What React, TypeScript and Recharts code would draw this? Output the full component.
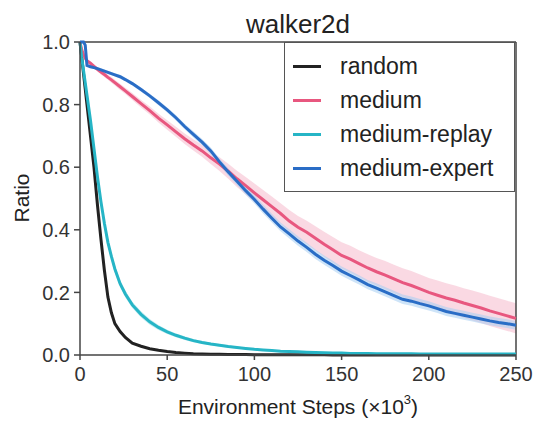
import { Area, ComposedChart, Line, ReferenceLine, XAxis, YAxis } from "recharts"

// environment steps (x10^3) shared by every curve
const steps = [
  0, 1, 2, 3, 4, 6, 8, 10, 12, 14, 16, 18, 20, 23, 26, 30, 35, 40, 45, 50,
  55, 60, 65, 70, 75, 80, 85, 90, 95, 100, 105, 110, 115, 120, 125, 130, 135, 140, 145, 150,
  155, 160, 165, 170, 175, 180, 185, 190, 195, 200, 205, 210, 215, 220, 225, 230, 235, 240, 245, 250,
]

const randomRatio = [
  1.0, 0.95, 0.9, 0.85, 0.8, 0.7, 0.6, 0.48, 0.37, 0.27, 0.185, 0.135, 0.1, 0.075, 0.056, 0.038, 0.028, 0.02, 0.015, 0.011,
  0.008, 0.006, 0.004, 0.003, 0.0025, 0.002, 0.0018, 0.0015, 0.0012, 0.001, 0.001, 0.001, 0.0008, 0.0008, 0.0006, 0.0006, 0.0005, 0.0005, 0.0004, 0.0004,
  0.0004, 0.0003, 0.0003, 0.0003, 0.0003, 0.0002, 0.0002, 0.0002, 0.0002, 0.0002, 0.0002, 0.0001, 0.0001, 0.0001, 0.0001, 0.0001, 0.0001, 0.0001, 0.0001, 0.0001,
]

const mediumRatio = [
  1.0, 0.975, 0.96, 0.948, 0.94, 0.932, 0.922, 0.913, 0.904, 0.896, 0.887, 0.879, 0.87, 0.857, 0.844, 0.826, 0.803, 0.781, 0.757, 0.735,
  0.713, 0.691, 0.671, 0.652, 0.63, 0.61, 0.587, 0.563, 0.541, 0.518, 0.496, 0.474, 0.452, 0.428, 0.408, 0.392, 0.373, 0.354, 0.336, 0.318,
  0.306, 0.292, 0.278, 0.266, 0.255, 0.243, 0.231, 0.222, 0.211, 0.2, 0.191, 0.182, 0.175, 0.166, 0.158, 0.15, 0.141, 0.133, 0.125, 0.117,
]

const replayRatio = [
  1.0, 0.95, 0.91, 0.87, 0.83, 0.75, 0.66, 0.57, 0.49, 0.42, 0.36, 0.315, 0.275, 0.228, 0.195, 0.16, 0.13, 0.106, 0.088, 0.074,
  0.063, 0.054, 0.046, 0.04, 0.035, 0.031, 0.027, 0.024, 0.021, 0.018, 0.016, 0.014, 0.012, 0.011, 0.01, 0.009, 0.008, 0.007, 0.006, 0.006,
  0.005, 0.005, 0.005, 0.004, 0.004, 0.004, 0.004, 0.004, 0.003, 0.003, 0.003, 0.003, 0.003, 0.003, 0.003, 0.003, 0.003, 0.003, 0.003, 0.003,
]

const expertRatio = [
  1.0, 1.0, 1.0, 0.99, 0.925, 0.921, 0.918, 0.915, 0.911, 0.907, 0.903, 0.899, 0.895, 0.889, 0.88, 0.867, 0.848, 0.828, 0.806, 0.783,
  0.758, 0.73, 0.705, 0.68, 0.652, 0.617, 0.585, 0.555, 0.525, 0.497, 0.466, 0.437, 0.409, 0.387, 0.364, 0.344, 0.322, 0.303, 0.286, 0.268,
  0.254, 0.24, 0.225, 0.214, 0.202, 0.19, 0.178, 0.172, 0.164, 0.157, 0.148, 0.139, 0.133, 0.127, 0.121, 0.115, 0.109, 0.104, 0.1, 0.095,
]

// half-width of the shaded band around each mean curve
const mediumSpread = [
  0, 0.004, 0.005, 0.006, 0.006, 0.006, 0.007, 0.007, 0.008, 0.008, 0.008, 0.009, 0.009, 0.01, 0.01, 0.011, 0.012, 0.013, 0.014, 0.015,
  0.016, 0.017, 0.018, 0.019, 0.02, 0.022, 0.024, 0.026, 0.028, 0.03, 0.031, 0.032, 0.033, 0.035, 0.036, 0.037, 0.038, 0.04, 0.041, 0.042,
  0.043, 0.043, 0.044, 0.044, 0.045, 0.045, 0.046, 0.046, 0.046, 0.046, 0.047, 0.047, 0.047, 0.047, 0.048, 0.048, 0.048, 0.048, 0.048, 0.048,
]

const replaySpread = [
  0, 0.005, 0.006, 0.007, 0.008, 0.009, 0.01, 0.011, 0.012, 0.012, 0.012, 0.012, 0.012, 0.011, 0.011, 0.01, 0.01, 0.009, 0.008, 0.007,
  0.006, 0.006, 0.005, 0.005, 0.004, 0.004, 0.004, 0.003, 0.003, 0.003, 0.002, 0.002, 0.002, 0.002, 0.002, 0.002, 0.002, 0.002, 0.002, 0.002,
  0.002, 0.002, 0.002, 0.002, 0.002, 0.002, 0.002, 0.002, 0.002, 0.002, 0.002, 0.002, 0.002, 0.002, 0.002, 0.002, 0.002, 0.002, 0.002, 0.002,
]

const expertSpread = [
  0, 0, 0, 0.003, 0.004, 0.004, 0.004, 0.004, 0.005, 0.005, 0.005, 0.005, 0.005, 0.006, 0.006, 0.006, 0.007, 0.007, 0.008, 0.008,
  0.009, 0.009, 0.01, 0.01, 0.011, 0.011, 0.012, 0.012, 0.013, 0.013, 0.014, 0.014, 0.014, 0.015, 0.015, 0.015, 0.015, 0.015, 0.015, 0.015,
  0.015, 0.015, 0.015, 0.015, 0.015, 0.015, 0.015, 0.015, 0.015, 0.015, 0.014, 0.014, 0.014, 0.014, 0.014, 0.014, 0.014, 0.014, 0.014, 0.014,
]

const xTicks = [0, 50, 100, 150, 200, 250]
const yTicks = [0, 0.2, 0.4, 0.6, 0.8, 1.0]

const SERIES = [
  { key: "random", name: "random", color: "#222222" },
  { key: "medium", name: "medium", color: "#e8577f" },
  { key: "replay", name: "medium-replay", color: "#26b5c6" },
  { key: "expert", name: "medium-expert", color: "#2a6dc6" },
]

const data = steps.map((x, i) => ({
  x,
  random: randomRatio[i],
  medium: mediumRatio[i],
  replay: replayRatio[i],
  expert: expertRatio[i],
  mediumBand: [mediumRatio[i] - mediumSpread[i], mediumRatio[i] + mediumSpread[i]],
  replayBand: [replayRatio[i] - replaySpread[i], replayRatio[i] + replaySpread[i]],
  expertBand: [expertRatio[i] - expertSpread[i], expertRatio[i] + expertSpread[i]],
}))

const FONT = "'Liberation Sans', Arial, sans-serif"
const AXIS = "#444444"

// legend box in the upper right corner of the axes
function LegendBox() {
  return (
    <div
      style={{
        position: "absolute",
        left: 284,
        top: 42,
        width: 231,
        height: 150,
        border: "1.5px solid #555",
        background: "#fff",
        padding: "6px 0 6px 8px",
        boxSizing: "border-box",
        fontFamily: FONT,
        fontSize: 23,
        color: "#222",
      }}
    >
      {SERIES.map((s) => (
        <div key={s.key} style={{ height: 34, display: "flex", alignItems: "center" }}>
          <div style={{ width: 28, height: 3, background: s.color, marginRight: 19 }} />
          <span>{s.name}</span>
        </div>
      ))}
    </div>
  )
}

export default function App() {
  return (
    <div style={{ position: "absolute", left: 0, top: 0, width: 536, height: 422, background: "#fff" }}>
      <ComposedChart
        width={536}
        height={422}
        data={data}
        margin={{ top: 42, right: 20, bottom: 37, left: 20 }}
        style={{ position: "absolute", left: 0, top: 0 }}
      >
        <XAxis
          dataKey="x"
          type="number"
          domain={[0, 250]}
          ticks={xTicks}
          height={30}
          stroke={AXIS}
          strokeWidth={1.5}
          tickSize={5}
          tickMargin={7}
          tick={{ fill: "#333", fontSize: 20, fontFamily: FONT }}
        />
        <YAxis
          type="number"
          domain={[0, 1]}
          ticks={yTicks}
          width={60}
          stroke={AXIS}
          strokeWidth={1.5}
          tickSize={6}
          tickMargin={4}
          tickFormatter={(v: number) => v.toFixed(1)}
          tick={{ fill: "#333", fontSize: 20, fontFamily: FONT }}
        />
        <ReferenceLine y={1} stroke={AXIS} strokeWidth={1.5} />
        <ReferenceLine x={250} stroke={AXIS} strokeWidth={1.5} />

        <Area dataKey="mediumBand" type="linear" stroke="none" fill="#f5b3c8" fillOpacity={0.5} isAnimationActive={false} legendType="none" />
        <Area dataKey="replayBand" type="linear" stroke="none" fill="#8fdbe6" fillOpacity={0.5} isAnimationActive={false} legendType="none" />
        <Area dataKey="expertBand" type="linear" stroke="none" fill="#a6cdf3" fillOpacity={0.55} isAnimationActive={false} legendType="none" />

        {SERIES.map((s) => (
          <Line
            key={s.key}
            dataKey={s.key}
            name={s.name}
            type="linear"
            stroke={s.color}
            strokeWidth={3}
            dot={false}
            activeDot={false}
            isAnimationActive={false}
          />
        ))}
      </ComposedChart>

      <div
        style={{
          position: "absolute",
          left: 98,
          width: 400,
          top: 11,
          textAlign: "center",
          fontFamily: FONT,
          fontSize: 26,
          lineHeight: "26px",
          color: "#222",
        }}
      >
        walker2d
      </div>
      <div
        style={{
          position: "absolute",
          left: 22,
          top: 198,
          transform: "translate(-50%, -50%) rotate(-90deg)",
          fontFamily: FONT,
          fontSize: 21,
          color: "#222",
          whiteSpace: "nowrap",
        }}
      >
        Ratio
      </div>
      <div
        style={{
          position: "absolute",
          left: 98,
          width: 400,
          top: 396,
          textAlign: "center",
          fontFamily: FONT,
          fontSize: 21,
          lineHeight: "21px",
          color: "#222",
          whiteSpace: "nowrap",
        }}
      >
        Environment Steps (×10<sup style={{ fontSize: 13, verticalAlign: "10px", lineHeight: 0 }}>3</sup>)
      </div>
      <LegendBox />
    </div>
  )
}
